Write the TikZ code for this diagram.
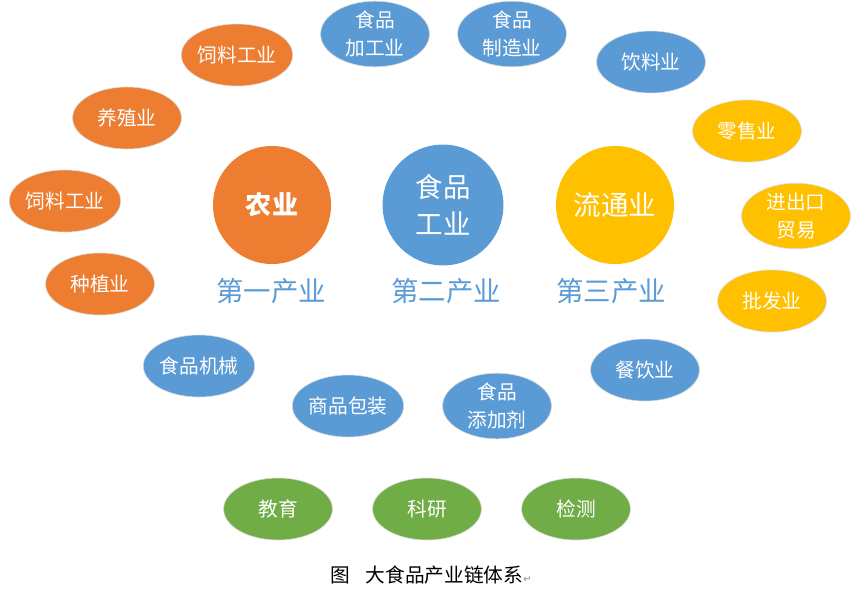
\documentclass[tikz,border=0pt]{standalone}
\usepackage{fontspec}
\setmainfont{Noto Sans CJK SC}
\newfontfamily\symfont{DejaVu Sans}
\usetikzlibrary{shapes.geometric}
\definecolor{orangeA}{HTML}{ED7D31}
\definecolor{blueA}{HTML}{5B9BD5}
\definecolor{goldA}{HTML}{FFC000}
\definecolor{greenA}{HTML}{70AD47}

\begin{document}
\begin{tikzpicture}[
  x=0.025cm, y=-0.025cm,
  bubble/.style={ellipse, draw=black!15, line width=0.4pt, text=white, minimum width=2.72cm, minimum height=1.55cm, inner sep=0pt, align=center, font=\fontsize{14pt}{20pt}\selectfont},
  core/.style={circle, text=white, minimum size=2.95cm, inner sep=0pt, align=center, font=\fontsize{19.5pt}{26pt}\selectfont},
  sector/.style={text=blueA, font=\fontsize{19.5pt}{22pt}\selectfont}
]
  \useasboundingbox (0,0) rectangle (859,592);

  % three cores
  \node[core, fill=orangeA, font=\fontsize{18.5pt}{26pt}\selectfont\bfseries] (agri) at (272,205) {农业};
  \node[core, fill=blueA, minimum size=3.02cm] (food) at (443,205) {食品\\工业};
  \node[core, fill=goldA] (trade) at (615,205) {流通业};

  \node[sector] (s1) at (271,291) {第一产业};
  \node[sector] (s2) at (446,291) {第二产业};
  \node[sector] (s3) at (611,291) {第三产业};

  % first sector
  \node[bubble, fill=orangeA] (feed1) at (237,55) {饲料工业};
  \node[bubble, fill=orangeA] (breed) at (127,118) {养殖业};
  \node[bubble, fill=orangeA] (feed2) at (65,201) {饲料工业};
  \node[bubble, fill=orangeA] (plant) at (100,284) {种植业};

  % second sector
  \node[bubble, fill=blueA] (proc) at (375,34) {食品\\加工业};
  \node[bubble, fill=blueA] (make) at (512,34) {食品\\制造业};
  \node[bubble, fill=blueA] (drink) at (651,62) {饮料业};
  \node[bubble, fill=blueA] (mach) at (199,366) {食品机械};
  \node[bubble, fill=blueA] (pack) at (348,406) {商品包装};
  \node[bubble, fill=blueA] (addi) at (497,406) {食品\\添加剂};
  \node[bubble, fill=blueA] (cater) at (645,370) {餐饮业};

  % third sector
  \node[bubble, fill=goldA] (retail) at (747,131) {零售业};
  \node[bubble, fill=goldA] (export) at (796,216) {进出口\\贸易};
  \node[bubble, fill=goldA] (whole) at (772,301) {批发业};

  % support
  \node[bubble, fill=greenA] (edu) at (278,509) {教育};
  \node[bubble, fill=greenA] (sci) at (427,509) {科研};
  \node[bubble, fill=greenA] (test) at (576,509) {检测};

  \node[font=\fontsize{14pt}{16pt}\selectfont] (cap) at (431,575) {图\hspace{0.8em}大食品产业链体系{\symfont\fontsize{7pt}{8pt}\selectfont\color{black!45}↵}};
\end{tikzpicture}
\end{document}
